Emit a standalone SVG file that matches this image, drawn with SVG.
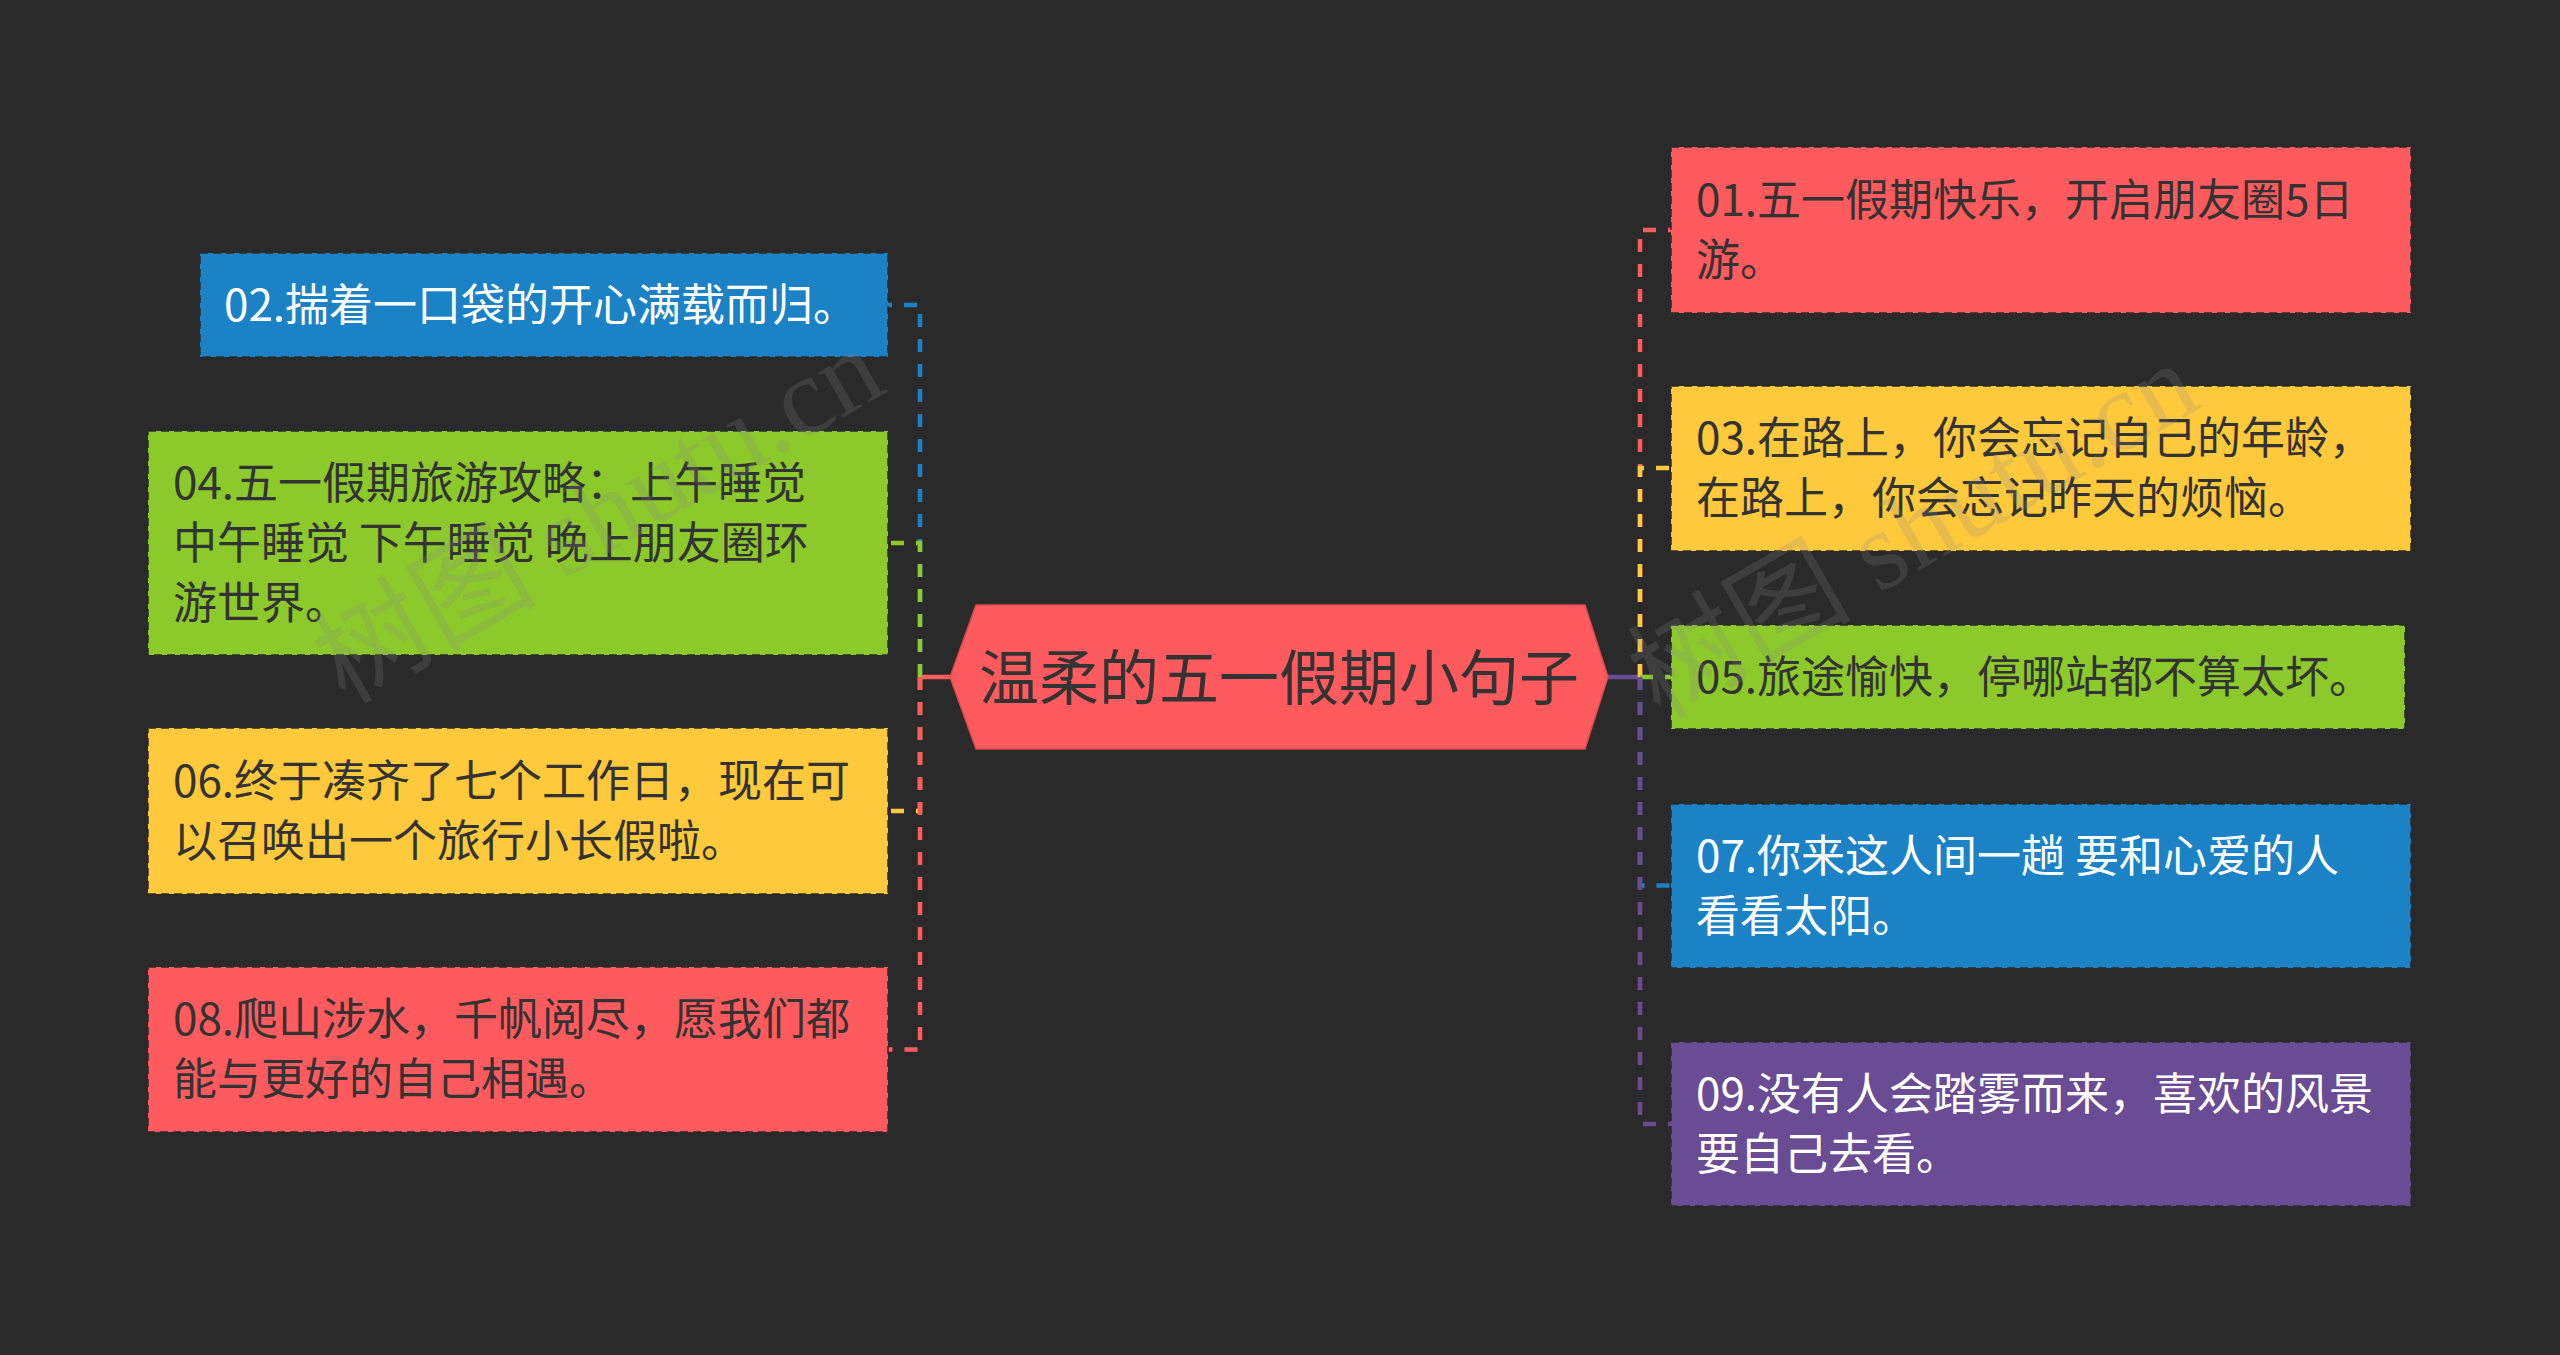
<svg xmlns="http://www.w3.org/2000/svg" width="2560" height="1355" viewBox="0 0 2560 1355">
<style>
.t{font-family:"Noto Sans CJK SC","Noto Sans",sans-serif;font-size:44px;}
.dk{fill:#333333;}
.wt{fill:#ffffff;}
.box{stroke:#2a2a2a;stroke-opacity:0.75;stroke-width:2;stroke-dasharray:8 5;}
.c{fill:none;stroke-width:4.5;stroke-dasharray:13 12;}
.wm{font-family:"Liberation Serif","Noto Sans CJK SC",serif;font-size:112px;fill:#8a8a8a;fill-opacity:0.22;}
</style>
<rect x="0" y="0" width="2560" height="1355" fill="#2a2a2a"/>
<g id="connectors">
<line x1="950" y1="677" x2="918" y2="677" stroke="#ff5a5e" stroke-width="4.5"/>
<line x1="1608" y1="677" x2="1642" y2="677" stroke="#6a4c94" stroke-width="4.5"/>
<path class="c" stroke="#1b82c6" d="M920,677 V305 H888"/>
<path class="c" stroke="#8cc92a" d="M920,677 V543 H888"/>
<path class="c" stroke="#fec93b" d="M920,677 V811 H888"/>
<path class="c" stroke="#ff5a5e" d="M920,677 V1049.5 H888"/>
<path class="c" stroke="#ff5a5e" d="M1640,677 V230 H1671"/>
<path class="c" stroke="#fec93b" d="M1640,677 V468 H1671"/>
<path class="c" stroke="#8cc92a" d="M1640,677 H1671"/>
<path class="c" stroke="#1b82c6" d="M1640,677 V885.5 H1671"/>
<path class="c" stroke="#6a4c94" d="M1640,677 V1124 H1671"/>
</g>
<g id="center">
<polygon points="950,677 976,605 1585,605 1608,677 1585,749 976,749" fill="#ff5a5e" stroke="#d84a4e" stroke-width="1.5"/>
<text x="1279" y="700" text-anchor="middle" font-family="Noto Sans CJK SC,sans-serif" font-size="60" fill="#333333">温柔的五一假期小句子</text>
</g>
<g id="n02">
<rect class="box" x="200" y="253" width="688" height="104" fill="#1b82c6"/>
<text class="t wt" x="224" y="321">02.揣着一口袋的开心满载而归。</text>
</g>
<g id="n04">
<rect class="box" x="148" y="431" width="740" height="224" fill="#8cc92a"/>
<text class="t dk" x="173" y="499">04.五一假期旅游攻略：上午睡觉</text>
<text class="t dk" x="173" y="559">中午睡觉 下午睡觉 晚上朋友圈环</text>
<text class="t dk" x="173" y="619">游世界。</text>
</g>
<g id="n06">
<rect class="box" x="148" y="728" width="740" height="166" fill="#fec93b"/>
<text class="t dk" x="173" y="797">06.终于凑齐了七个工作日，现在可</text>
<text class="t dk" x="173" y="857">以召唤出一个旅行小长假啦。</text>
</g>
<g id="n08">
<rect class="box" x="148" y="967" width="740" height="165" fill="#ff5a5e"/>
<text class="t dk" x="173" y="1035">08.爬山涉水，千帆阅尽，愿我们都</text>
<text class="t dk" x="173" y="1095">能与更好的自己相遇。</text>
</g>
<g id="n01">
<rect class="box" x="1671" y="147" width="740" height="166" fill="#ff5a5e"/>
<text class="t dk" x="1696" y="216">01.五一假期快乐，开启朋友圈5日</text>
<text class="t dk" x="1696" y="276">游。</text>
</g>
<g id="n03">
<rect class="box" x="1671" y="386" width="740" height="165" fill="#fec93b"/>
<text class="t dk" x="1696" y="454">03.在路上，你会忘记自己的年龄，</text>
<text class="t dk" x="1696" y="514">在路上，你会忘记昨天的烦恼。</text>
</g>
<g id="n05">
<rect class="box" x="1671" y="625" width="734" height="104" fill="#8cc92a"/>
<text class="t dk" x="1696" y="693">05.旅途愉快，停哪站都不算太坏。</text>
</g>
<g id="n07">
<rect class="box" x="1671" y="804" width="740" height="164" fill="#1b82c6"/>
<text class="t wt" x="1696" y="872">07.你来这人间一趟 要和心爱的人</text>
<text class="t wt" x="1696" y="932">看看太阳。</text>
</g>
<g id="n09">
<rect class="box" x="1671" y="1042" width="740" height="164" fill="#6a4c94"/>
<text class="t wt" x="1696" y="1110">09.没有人会踏雾而来，喜欢的风景</text>
<text class="t wt" x="1696" y="1170">要自己去看。</text>
</g>
<g id="watermark">
<text class="wm" transform="translate(345,705) rotate(-30)">树图 shutu.cn</text>
<text class="wm" transform="translate(1660,720) rotate(-30)">树图 shutu.cn</text>
</g>
</svg>
